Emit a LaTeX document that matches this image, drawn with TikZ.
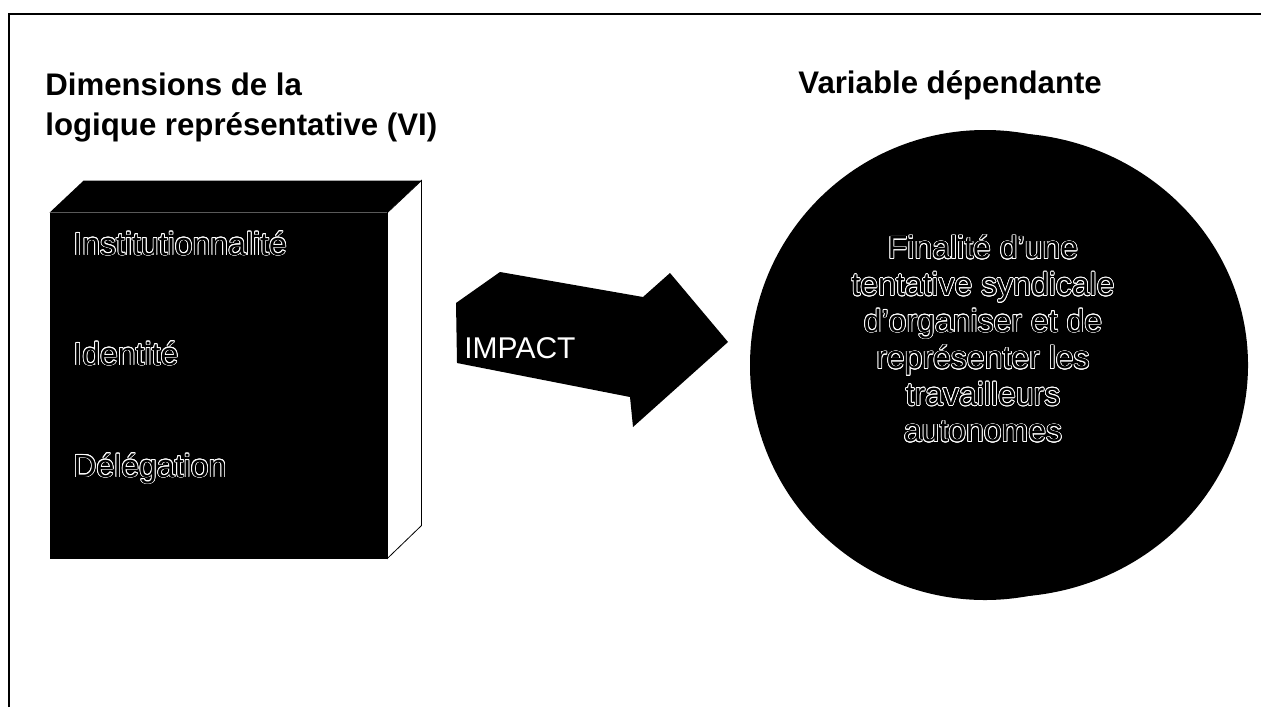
\documentclass[tikz,border=0pt]{standalone}
\usepackage{fontspec}
\setmainfont{Liberation Sans}
\usepackage[copies]{contour}
\contourlength{0.38pt}
\newcommand{\hollow}[1]{\contour{white}{#1}}

\tikzset{
  heading/.style={anchor=base west, inner sep=0pt,
                  font=\bfseries\fontsize{15.6}{18}\selectfont},
  hollowtext/.style={anchor=base west, inner sep=0pt, text=black,
                     font=\fontsize{16}{19}\selectfont},
}

\begin{document}
\begin{tikzpicture}[x=0.5pt, y=-0.5pt]
    \useasboundingbox (0,0) rectangle (1261,707);
    \draw[line width=1pt] (9,707) -- (9,14) -- (1261,14);

    \node[heading] (Dims) at (45,95) {Dimensions de la};
    \node[heading] (Dims2) at (45,135) {logique représentative (VI)};
    \node[heading] (Dep) at (798,93) {Variable dépendante};

    % the block
    \node[draw, rectangle, fill=black, line width=0.4pt,
          minimum width=168.5pt, minimum height=172.5pt,
          ] (Front) at (218.5,385.5) {};
    \fill (Front.north west) -- ++(34,-32) -- ++(338,0)
        -- (Front.north east) -- cycle;
    \filldraw[fill=white, line width=0.4pt] (Front.north east)
        -- ++(34,-32) -- ++(0,345) -- (Front.south east) -- cycle;

    \node[hollowtext] (Inst) at (73,255) {\hollow{Institutionnalité}};
    \node[hollowtext] (Ident) at (73,365) {\hollow{Identité}};
    \node[hollowtext] (Deleg) at (73,477) {\hollow{Délégation}};

    % the arrow
    \fill (457,363) -- (456,303) -- (500,272) -- (643,297) -- (670,273)
        -- (728,342) -- (633,427) -- (630,397) -- cycle;
    \node[anchor=base west, inner sep=0pt, text=white,
          font=\fontsize{15}{18}\selectfont] (Impact) at (464,358) {IMPACT};

    % the sphere
    \fill (1005,365) ellipse [x radius=243, y radius=232];
    \node[circle, fill=black, minimum size=235pt] (Fin) at (985,365) {};
    \node[anchor=north, inner sep=0pt, align=center, text=black,
          font=\fontsize{16}{18.3}\selectfont] (FinText) at (983,235)
        {\hollow{Finalité d’une}\\ \hollow{tentative syndicale}\\
         \hollow{d’organiser et de}\\ \hollow{représenter les}\\
         \hollow{travailleurs}\\ \hollow{autonomes}};
\end{tikzpicture}
\end{document}
